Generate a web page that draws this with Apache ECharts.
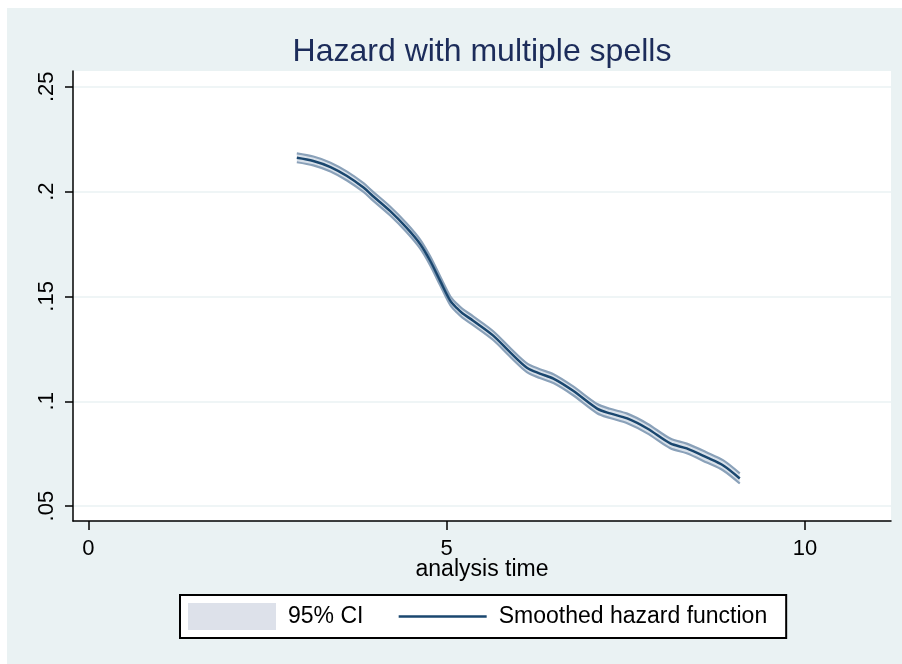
<!DOCTYPE html>
<html>
<head>
<meta charset="utf-8">
<script src="https://cdn.jsdelivr.net/npm/echarts@6/dist/echarts.min.js"></script>
<style>
html,body{margin:0;padding:0;background:#ffffff;width:902px;height:664px;overflow:hidden;}
#chart{position:absolute;left:7px;top:8px;width:895px;height:656px;background:#eaf2f3;}
</style>
</head>
<body>
<div id="chart"></div>
<script>
// ---- data ----
var titleText = 'Hazard with multiple spells';
var xTicks = [0, 5, 10];
var yTicks = [0.05, 0.10, 0.15, 0.20, 0.25];
var time = [2.91, 3.14, 3.38, 3.61, 3.84, 3.97, 4.21, 4.44, 4.63, 4.77, 4.91, 5.05, 5.14, 5.22, 5.37,
            5.65, 5.89, 6.12, 6.30, 6.49, 6.76, 7.10, 7.28, 7.52, 7.80, 8.12, 8.35, 8.63, 8.86, 9.09];
var hazard = [0.2161, 0.2146, 0.2117, 0.2074, 0.2019, 0.1979, 0.1908, 0.1828, 0.1750, 0.1670, 0.1574, 0.1480, 0.1445, 0.1420, 0.1384,
              0.1313, 0.1232, 0.1160, 0.1132, 0.1108, 0.1051, 0.0965, 0.0942, 0.0918, 0.0870, 0.0799, 0.0775, 0.0732, 0.0694, 0.0632];
var ciLower = [0.2140, 0.2125, 0.2096, 0.2053, 0.1998, 0.1958, 0.1887, 0.1807, 0.1729, 0.1649, 0.1553, 0.1459, 0.1424, 0.1399, 0.1363,
               0.1292, 0.1211, 0.1139, 0.1111, 0.1087, 0.1030, 0.0943, 0.0920, 0.0895, 0.0847, 0.0776, 0.0752, 0.0708, 0.0670, 0.0608];
var ciUpper = [0.2182, 0.2167, 0.2138, 0.2095, 0.2040, 0.2000, 0.1929, 0.1849, 0.1771, 0.1691, 0.1595, 0.1501, 0.1466, 0.1441, 0.1405,
               0.1334, 0.1253, 0.1181, 0.1153, 0.1129, 0.1072, 0.0987, 0.0964, 0.0941, 0.0893, 0.0822, 0.0798, 0.0756, 0.0718, 0.0656];
var ciName = '95% CI';
var lineName = 'Smoothed hazard function';
var xName = 'analysis time';

// ---- styling ----
var FONT = '"Liberation Sans", Arial, sans-serif';
var NAVY = '#1a476f';
var CI_FILL = '#d9e1ea';
var CI_EDGE = '#8aa1b9';

function pairs(xs, ys) { return xs.map(function (x, i) { return [x, ys[i]]; }); }
var bandData = time.map(function (t, i) { return [t, ciLower[i], ciUpper[i]]; });

var chart = echarts.init(document.getElementById('chart'), null, {renderer: 'canvas'});
chart.setOption({
  backgroundColor: '#eaf2f3',
  animation: false,
  textStyle: {fontFamily: FONT},
  title: {
    text: titleText,
    left: 475, top: 28, padding: 0, textAlign: 'center',
    textStyle: {fontFamily: FONT, fontSize: 32, fontWeight: 'normal', color: '#1c2c5a'}
  },
  grid: {left: 66, top: 63, right: 11, bottom: 143, show: true, backgroundColor: '#ffffff', borderWidth: 0},
  xAxis: {
    type: 'value', min: -0.213, max: 11.2,
    name: xName, nameLocation: 'middle', nameGap: 37, nameMoveOverlap: false,
    nameTextStyle: {fontFamily: FONT, fontSize: 23, color: '#000'},
    axisLine: {show: true, onZero: false, lineStyle: {color: '#000', width: 1.5}},
    axisTick: {show: true, customValues: xTicks, length: 9, lineStyle: {color: '#000', width: 1.5}},
    axisLabel: {customValues: xTicks, fontFamily: FONT, fontSize: 22, color: '#000', margin: 17},
    splitLine: {show: false}
  },
  yAxis: {
    type: 'value', min: 0.0429, max: 0.2575,
    axisLine: {show: true, onZero: false, lineStyle: {color: '#000', width: 1.5}},
    axisTick: {show: true, customValues: yTicks, length: 8, lineStyle: {color: '#000', width: 1.5}},
    axisLabel: {
      customValues: yTicks, rotate: 90, fontFamily: FONT, fontSize: 22, color: '#000', margin: 15,
      formatter: function (v) { return String(+v.toFixed(2)).replace(/^0\./, '.'); }
    },
    splitLine: {show: true, lineStyle: {color: '#eaf2f3', width: 1.5}}
  },
  legend: {
    left: 173, top: 587,
    orient: 'horizontal',
    backgroundColor: '#ffffff', borderColor: '#000', borderWidth: 2,
    padding: [8, 19, 8, 8],
    itemWidth: 88, itemHeight: 27, itemGap: 34,
    textStyle: {fontFamily: FONT, fontSize: 23, color: '#000', padding: [0, 0, 0, 7]},
    data: [
      {name: ciName, icon: 'rect', itemStyle: {color: '#dde1ea', borderWidth: 0}},
      {name: lineName, itemStyle: {opacity: 0}, lineStyle: {color: NAVY, width: 2.5}}
    ]
  },
  series: [
    {
      name: ciName, type: 'custom', z: 1,
      data: bandData,
      itemStyle: {color: '#dde1ea'},
      renderItem: function (params, api) {
        if (params.dataIndex !== 0) return null;
        var pts = [];
        for (var i = 0; i < time.length; i++) pts.push(api.coord([time[i], ciUpper[i]]));
        for (var j = time.length - 1; j >= 0; j--) pts.push(api.coord([time[j], ciLower[j]]));
        return {type: 'polygon', shape: {points: pts}, style: {fill: CI_FILL, stroke: null}};
      }
    },
    {
      name: ciName, type: 'line', z: 2, data: pairs(time, ciUpper), symbol: 'none', smooth: 0.3,
      lineStyle: {color: CI_EDGE, width: 2.2}, itemStyle: {color: CI_EDGE}
    },
    {
      name: ciName, type: 'line', z: 2, data: pairs(time, ciLower), symbol: 'none', smooth: 0.3,
      lineStyle: {color: CI_EDGE, width: 2.2}, itemStyle: {color: CI_EDGE}
    },
    {
      name: lineName, type: 'line', z: 3, data: pairs(time, hazard), symbol: 'none', smooth: 0.3,
      lineStyle: {color: NAVY, width: 2.5}, itemStyle: {color: NAVY}
    }
  ]
});
</script>
</body>
</html>
